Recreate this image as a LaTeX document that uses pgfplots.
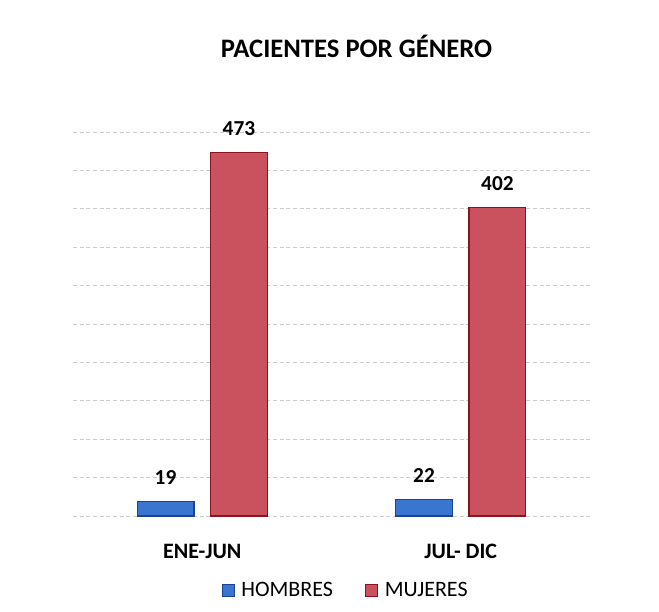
\documentclass[border=0pt]{standalone}
\usepackage{pgfplots}
\pgfplotsset{compat=1.18}
\usepackage{fontspec}
\setmainfont{Carlito}
\definecolor{hbfill}{RGB}{58,118,208}
\definecolor{hbdraw}{RGB}{28,66,150}
\definecolor{mjfill}{RGB}{202,82,94}
\definecolor{mjdraw}{RGB}{140,18,32}
\begin{document}
\begin{tikzpicture}[x=1pt,y=1pt]
\path[use as bounding box] (0,0) rectangle (494.25,458.25);
\node[anchor=base,font=\bfseries\fontsize{20}{22}\selectfont] at (267.4,414.75) {PACIENTES POR GÉNERO};
\begin{axis}[
  at={(54.75pt,71.25pt)}, anchor=south west,
  scale only axis, width=387.75pt, height=288pt,
  xmin=-0.5, xmax=1.5, ymin=0, ymax=500,
  axis line style={draw=none},
  ytick={0,50,...,500}, yticklabels={},
  ymajorgrids, grid style={gray!40, densely dashed, line width=0.5pt},
  xtick={0,1}, xticklabels={ENE-JUN, JUL- DIC},
  major tick length=0pt,
  xticklabel style={anchor=base, yshift=-31.5pt, font=\bfseries\fontsize{16.5}{18}\selectfont},
  ybar, bar width=0.22,
  nodes near coords,
  /pgf/number format/assume math mode=true,
  nodes near coords style={anchor=center, yshift=18pt, font=\bfseries\fontsize{16}{18}\selectfont, text=black},
  legend style={at={(0.528,-0.193)}, anchor=center, draw=none, fill=none,
    legend columns=2, font=\fontsize{16.5}{18}\selectfont,
    /tikz/every odd column/.append style={column sep=3pt},
    /tikz/every even column/.append style={column sep=22pt}},
  legend image code/.code={\draw[#1] (0pt,-4.5pt) rectangle (9pt,4.5pt);},
]
\addplot[fill=hbfill, draw=hbdraw, line width=0.8pt, bar shift=-0.142] coordinates {(0,19) (1,22)};
\addlegendentry{HOMBRES}
\addplot[fill=mjfill, draw=mjdraw, line width=0.8pt, bar shift=0.142] coordinates {(0,473) (1,402)};
\addlegendentry{MUJERES}
\end{axis}
\end{tikzpicture}
\end{document}
